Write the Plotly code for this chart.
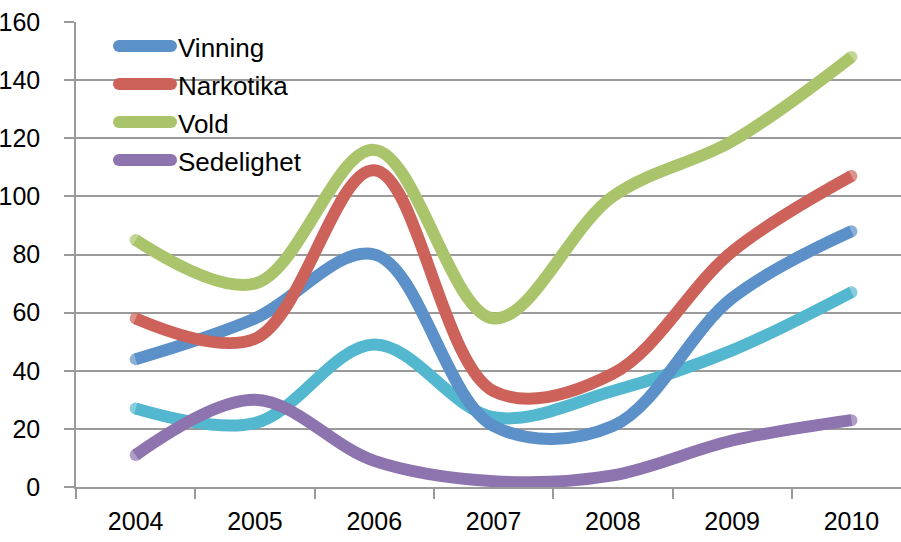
import plotly.graph_objects as go

# Category labels and series values
years = ["2004", "2005", "2006", "2007", "2008", "2009", "2010"]
vinning = [44, 58, 80, 21, 21, 65, 88]
narkotika = [58, 51, 109, 33, 39, 81, 107]
vold = [85, 70, 116, 58, 100, 119, 148]
sedelighet = [11, 30, 9, 2, 4, 16, 23]
annet = [27, 22, 49, 24, 33, 47, 67]

y_ticks = [0, 20, 40, 60, 80, 100, 120, 140, 160]

series = [
    ("Vinning", vinning, "#5B90C8", True),
    ("Narkotika", narkotika, "#CD625A", True),
    ("Vold", vold, "#A9C46A", True),
    ("Sedelighet", sedelighet, "#8D74AE", True),
    ("Annet", annet, "#53B8CF", False),
]

W, H = 901, 542
ML, MT, MB = 76, 22, 55
PW, PH = W - ML, H - MT - MB
LW = 12
FONT = "Liberation Sans, Arial"

fig = go.Figure()

# Draw from the back: cyan first so the named series sit on top
draw_order = [4, 3, 0, 1, 2]
for i in draw_order:
    name, vals, color, _ = series[i]
    sizes = [LW] + [0] * (len(vals) - 2) + [LW]
    fig.add_trace(go.Scatter(
        x=years, y=vals, name=name, mode="lines+markers",
        line=dict(color=color, width=LW, shape="spline", smoothing=1.0),
        marker=dict(size=sizes, color=color, line=dict(width=0)),
        showlegend=False, hoverinfo="skip",
    ))

# Hand-built legend on a pixel-scaled overlay axis
leg_x0, leg_x1 = 119 - ML, 171 - ML
leg_rows = [46, 84, 122, 160]
legend_items = [s for s in series if s[3]]
for (name, _, color, _), py in zip(legend_items, leg_rows):
    yy = H - MB - py
    fig.add_annotation(
        x=176 - ML, y=yy - 2, xref="x2", yref="y2", text=name,
        showarrow=False, xanchor="left", yanchor="middle",
        font=dict(family=FONT, size=26, color="#000"),
    )
    fig.add_trace(go.Scatter(
        x=[leg_x0, leg_x1], y=[yy, yy], mode="lines+markers",
        line=dict(color=color, width=LW),
        marker=dict(size=LW, color=color, line=dict(width=0)),
        xaxis="x2", yaxis="y2", showlegend=False, hoverinfo="skip",
    ))

grid = "#9A9A9A"
fig.update_layout(
    width=W, height=H,
    margin=dict(l=ML, r=0, t=MT, b=MB, pad=0, autoexpand=False),
    plot_bgcolor="white", paper_bgcolor="white",
    font=dict(family=FONT, size=25, color="#000"),
    xaxis=dict(
        type="category", categoryorder="array", categoryarray=years,
        range=[-0.5, -0.5 + PW / 119.3], automargin=False,
        tickson="boundaries", ticks="outside", ticklen=10, tickwidth=1.5,
        tickcolor=grid, showgrid=False, showline=True, linecolor=grid,
        linewidth=1.5, zeroline=False, ticklabelstandoff=11,
        tickfont=dict(size=25),
    ),
    yaxis=dict(
        range=[0, 160], tickvals=y_ticks, ticks="outside", ticklen=10,
        tickwidth=1.5, tickcolor=grid, showgrid=True, gridcolor=grid,
        gridwidth=1.5, showline=True, linecolor=grid, linewidth=1.5,
        zeroline=False, ticklabelstandoff=19, tickfont=dict(size=25),
        automargin=False,
    ),
    xaxis2=dict(range=[0, PW], overlaying="x", visible=False, fixedrange=True),
    yaxis2=dict(range=[0, PH], overlaying="y", visible=False, fixedrange=True),
    showlegend=False,
)

fig.write_html("out.html")
